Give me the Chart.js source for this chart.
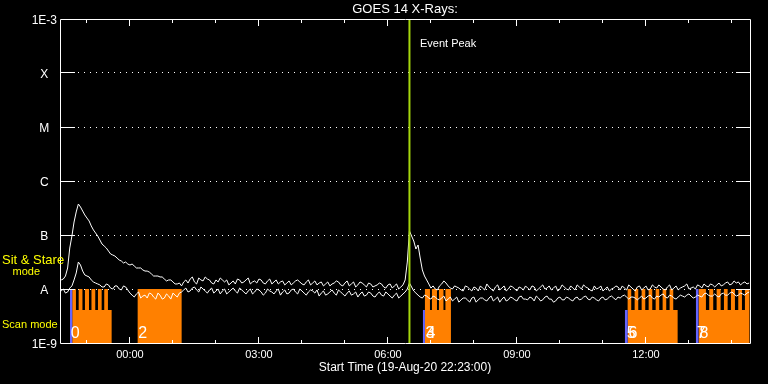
<!DOCTYPE html>
<html><head><meta charset="utf-8">
<script src="https://cdn.jsdelivr.net/npm/chart.js"></script>
<style>html,body{margin:0;padding:0;background:#000;}canvas{display:block;}</style>
</head><body>
<canvas id="c" width="768" height="384"></canvas>
<script>
// Time axis: hours relative to 20-Aug-2020 00:00 UT (plot starts 19-Aug 22:23)
const axisStartHour = -1.627;
const axisEndHour = 14.42;
const startHour = -1.6;   // first sample
const stepHour = 0.05;    // sample spacing (hours)

// GOES 14 fluxes, in units of 1e-8 W/m^2 (A-class)
const fluxLong = [
1.47,1.53,1.74,2.45,5.74,9.58,17.4,26.7,37.5,33.0,
27.8,23.5,20.6,18.2,14.7,12.4,10.9,9.58,8.08,6.81,
6.26,5.74,5.05,4.45,4.26,4.08,3.75,3.44,3.30,3.03,
3.16,2.90,2.78,2.90,2.67,2.45,2.45,2.45,2.25,2.15,
2.15,2.06,1.90,1.74,1.74,1.74,1.67,1.67,1.53,1.41,
1.47,1.47,1.35,1.24,1.24,1.29,1.14,1.35,1.47,1.29,
1.53,1.67,1.35,1.24,1.60,1.47,1.41,1.67,1.53,1.47,
1.29,1.24,1.47,1.35,1.60,1.47,1.35,1.47,1.19,1.29,
1.41,1.24,1.53,1.47,1.29,1.35,1.47,1.60,1.24,1.35,
1.41,1.29,1.53,1.47,1.29,1.24,1.41,1.53,1.24,1.35,
1.47,1.24,1.35,1.41,1.19,1.29,1.41,1.19,1.29,1.41,
1.47,1.35,1.24,1.19,1.35,1.47,1.19,1.29,1.41,1.19,
1.29,1.35,1.14,1.24,1.35,1.14,1.24,1.29,1.41,1.35,
1.19,1.14,1.29,1.41,1.14,1.24,1.35,1.09,1.19,1.35,
1.29,1.19,1.09,1.29,1.24,1.09,1.14,1.19,1.29,1.24,
1.09,1.04,1.19,1.24,1.04,1.14,1.24,1.00,1.09,1.19,
1.47,3.16,11.9,9.58,7.74,5.50,6.53,3.75,2.25,1.74,
1.47,1.24,1.04,1.14,1.00,0.96,1.14,1.24,1.41,1.29,
1.14,1.04,1.00,1.14,1.09,1.04,0.96,0.92,1.14,1.09,
1.00,0.92,1.09,1.04,0.92,1.14,1.04,0.96,1.24,1.09,
1.00,0.92,1.09,1.19,0.96,1.04,1.14,0.92,1.00,1.14,
1.09,1.00,0.92,1.09,1.04,0.96,1.14,1.04,0.96,1.14,
1.09,0.92,1.00,1.09,1.19,1.00,1.04,1.14,0.96,1.04,
1.14,0.92,1.00,1.19,1.09,1.00,0.96,1.14,1.04,0.96,
1.19,1.09,1.00,1.19,1.09,1.04,0.96,0.92,1.14,1.00,
1.04,1.14,0.92,1.00,1.09,0.92,1.00,1.04,1.14,1.09,
0.96,1.14,1.04,0.96,1.19,1.09,1.00,0.92,1.09,1.14,
0.96,1.04,1.14,0.96,1.00,1.19,1.09,1.04,1.19,1.09,
1.00,0.96,1.09,1.19,0.96,1.04,1.14,0.96,1.04,1.09,
1.14,1.24,1.00,1.04,1.09,1.00,1.19,1.14,1.04,1.24,
1.14,1.09,1.24,1.19,1.09,1.19,1.29,1.14,1.19,1.29,
1.35,1.19,1.24,1.41,1.29,1.35,1.19,1.29,1.35,1.24,
1.29];
const fluxShort = [
0.92,1.00,0.84,0.88,1.04,1.14,1.47,1.98,3.16,2.78,
2.15,1.82,1.74,1.67,1.47,1.35,1.29,1.24,1.19,1.09,
1.09,1.24,1.19,1.04,1.00,1.14,1.14,1.00,0.96,1.14,
1.09,0.96,0.84,0.77,0.71,0.81,0.88,0.68,0.74,0.77,
0.68,0.84,0.81,0.71,0.65,0.84,0.77,0.65,0.68,0.81,
0.74,0.65,0.84,0.77,0.71,0.84,0.88,0.96,1.04,0.88,
0.92,1.04,1.09,0.96,0.88,1.09,1.00,0.92,0.84,0.96,
1.04,0.84,0.92,1.00,0.81,0.92,1.00,0.81,0.88,0.96,
1.04,0.92,0.84,1.04,0.96,0.88,0.81,0.92,1.00,0.81,
0.88,1.00,0.96,0.88,0.77,0.84,1.00,0.92,0.88,0.81,
0.92,1.00,0.77,0.88,0.96,0.81,0.84,0.96,1.00,0.88,
0.81,1.00,0.92,0.84,0.77,0.88,0.96,0.92,0.84,0.96,
0.74,0.84,0.92,0.77,0.81,0.88,0.96,0.84,0.77,0.96,
0.88,0.81,0.74,0.84,0.92,0.77,0.81,0.88,0.71,0.81,
0.88,0.74,0.77,0.88,0.84,0.74,0.71,0.81,0.88,0.77,
0.74,0.88,0.81,0.74,0.68,0.77,0.84,0.68,0.74,0.81,
0.88,1.00,1.29,1.09,0.92,0.84,0.77,0.71,0.68,0.77,
0.74,0.68,0.65,0.74,0.71,0.65,0.63,0.68,0.74,0.60,
0.65,0.71,0.60,0.65,0.71,0.57,0.63,0.68,0.68,0.63,
0.57,0.68,0.71,0.57,0.63,0.68,0.68,0.63,0.60,0.68,
0.74,0.60,0.65,0.71,0.57,0.65,0.71,0.60,0.63,0.71,
0.68,0.63,0.60,0.71,0.74,0.65,0.65,0.63,0.71,0.68,
0.60,0.74,0.68,0.60,0.63,0.71,0.74,0.65,0.65,0.57,
0.60,0.68,0.71,0.63,0.63,0.71,0.68,0.63,0.60,0.68,
0.71,0.63,0.65,0.71,0.74,0.65,0.63,0.71,0.68,0.63,
0.60,0.68,0.71,0.63,0.65,0.71,0.74,0.68,0.63,0.71,
0.68,0.74,0.77,0.71,0.65,0.71,0.71,0.68,0.63,0.68,
0.74,0.65,0.68,0.74,0.77,0.68,0.65,0.74,0.71,0.77,
0.81,0.71,0.68,0.77,0.74,0.68,0.65,0.71,0.77,0.74,
0.71,0.77,0.81,0.74,0.68,0.71,0.77,0.74,0.71,0.81,
0.84,0.77,0.74,0.74,0.81,0.74,0.71,0.81,0.84,0.77,
0.77,0.84,0.88,0.81,0.74,0.77,0.84,0.81,0.77,0.84,
0.88];

const yTickValues = [1e-9,1e-8,1e-7,1e-6,1e-5,1e-4,1e-3];
const yTickLabels = ['1E-9','A','B','C','M','X','1E-3'];
const xTickHours = [0,3,6,9,12];
const xTickLabels = ['00:00','03:00','06:00','09:00','12:00'];
const eventPeakHour = 6.5;

// Instrument mode (level 1 = Sit & Stare, 0.61 = Scan, 0 = none)
const modeHours = [-1.627,
 -1.342,-1.256,-1.193,-1.105,-1.047,-0.953,-0.895,-0.807,-0.744,-0.658,-0.598,-0.512,-0.426,
 0.179,1.202,
 6.860,6.977,7.023,7.140,7.186,7.291,7.337,7.465,
 11.574,11.658,11.737,11.821,11.900,11.984,12.063,12.147,12.226,12.309,12.388,12.472,12.551,12.635,12.737,
 13.226,13.395,13.472,13.565,13.644,13.737,13.814,13.900,13.977,14.070,14.147,14.233,14.302,14.412];
const modeLevels = [0,
 1,0.61,1,0.61,1,0.61,1,0.61,1,0.61,1,0.61,0,
 1,0,
 1,0.61,1,0.61,1,0.61,1,0,
 1,0.61,1,0.61,1,0.61,1,0.61,1,0.61,1,0.61,1,0.61,0,
 1,0.61,1,0.61,1,0.61,1,0.61,1,0.61,1,0.61,1,0];
const markerHours = [-1.627,-1.395,-1.342,6.814,6.860,11.512,11.574,13.163,13.226];
const markerLevels = [0,1,0,0.61,0,0.61,0,1,0];
const obsLabels = ['0','2','3','4','5','6','7','8'];
const obsLabelHours = [-1.379,0.193,6.872,6.895,11.551,11.593,13.179,13.244];

const FONT = "'Liberation Sans', Arial, sans-serif";
const hours = fluxLong.map((_, i) => +(startHour + i * stepHour).toFixed(3));
const toPts = arr => arr.map((v, i) => ({x: hours[i], y: v * 1e-8}));
const stepPts = (hs, ls) => hs.map((h, i) => ({x: h, y: ls[i]}));

const decor = {
  id: 'decor',
  afterDatasetsDraw(chart) {
    const {ctx, chartArea: a, scales: {x, y}} = chart;
    ctx.save();
    ctx.strokeStyle = '#fff';
    ctx.lineWidth = 1;
    ctx.beginPath();
    ctx.rect(a.left + 0.5, a.top + 0.5, a.right - a.left, a.bottom - a.top);
    for (let h = Math.ceil(x.min); h <= Math.floor(x.max); h++) {
      const px = Math.floor(x.getPixelForValue(h)) + 0.5;
      const len = (h % 3 === 0) ? 6 : 3;
      ctx.moveTo(px, a.bottom); ctx.lineTo(px, a.bottom - len);
      ctx.moveTo(px, a.top + 1); ctx.lineTo(px, a.top + 1 + len);
    }
    yTickValues.slice(1, -1).forEach(v => {
      const py = Math.floor(y.getPixelForValue(v)) + 0.5;
      ctx.moveTo(a.left, py); ctx.lineTo(a.left + 15, py);
      ctx.moveTo(a.right, py); ctx.lineTo(a.right - 14, py);
    });
    ctx.stroke();
    ctx.restore();
  },
  afterDraw(chart) {
    const {ctx, chartArea: a, scales: {x}} = chart;
    ctx.save();
    ctx.fillStyle = '#fff';
    ctx.textBaseline = 'alphabetic';
    ctx.textAlign = 'left';
    ctx.font = '16px ' + FONT;
    obsLabels.forEach((t, i) => ctx.fillText(t, x.getPixelForValue(obsLabelHours[i]), a.bottom - 5));
    ctx.font = '11px ' + FONT;
    ctx.fillText('Event Peak', x.getPixelForValue(eventPeakHour) + 10.5, 47);
    ctx.fillStyle = '#ffff00';
    ctx.font = '13px ' + FONT;
    ctx.fillText('Sit & Stare', 2, 263.5);
    ctx.font = '11px ' + FONT;
    ctx.fillText('mode', 12.5, 275);
    ctx.fillText('Scan mode', 2, 328);
    ctx.restore();
  }
};

new Chart(document.getElementById('c'), {
  type: 'line',
  data: {
    datasets: [
      {label: 'GOES 14 1-8 A', data: toPts(fluxLong), borderColor: '#fff', borderWidth: 1, pointRadius: 0, tension: 0, order: 1, yAxisID: 'y'},
      {label: 'GOES 14 0.5-4 A', data: toPts(fluxShort), borderColor: '#fff', borderWidth: 1, pointRadius: 0, tension: 0, order: 1, yAxisID: 'y'},
      {label: 'Event Peak', data: [{x: eventPeakHour, y: 1e-9}, {x: eventPeakHour, y: 1e-3}], borderColor: '#a4d60c', borderWidth: 2, pointRadius: 0, order: 0, yAxisID: 'y'},
      {label: 'Marker', data: stepPts(markerHours, markerLevels), stepped: true, fill: 'start', backgroundColor: '#6464ff', borderColor: 'rgba(0,0,0,0)', borderWidth: 1, pointRadius: 0, order: 2, yAxisID: 'yMode'},
      {label: 'Mode', data: stepPts(modeHours, modeLevels), stepped: true, fill: 'start', backgroundColor: '#ff8000', borderColor: 'rgba(0,0,0,0)', borderWidth: 1, pointRadius: 0, order: 3, yAxisID: 'yMode'}
    ]
  },
  options: {
    responsive: false,
    animation: false,
    devicePixelRatio: 1,
    layout: {padding: {left: 0, right: 18, top: 0, bottom: 0}},
    plugins: {
      legend: {display: false},
      tooltip: {enabled: false},
      title: {display: true, text: 'GOES 14 X-Rays:', color: '#fff', fullSize: false,
              font: {family: FONT, size: 13, weight: 'normal'}, padding: {top: 2, bottom: 1.4}}
    },
    scales: {
      x: {
        type: 'linear', min: axisStartHour, max: axisEndHour,
        grid: {display: false, drawTicks: false},
        border: {display: false},
        afterBuildTicks: s => { s.ticks = xTickHours.map(v => ({value: v})); },
        afterFit: s => { s.height = 41; },
        ticks: {color: '#fff', font: {family: FONT, size: 11}, padding: 5, maxRotation: 0, autoSkip: false,
                callback: (v, i) => xTickLabels[i]},
        title: {display: true, text: 'Start Time (19-Aug-20 22:23:00)', color: '#fff',
                font: {family: FONT, size: 12}, padding: {top: 0, bottom: 9}}
      },
      y: {
        type: 'logarithmic', min: 1e-9, max: 1e-3, position: 'left',
        afterBuildTicks: s => { s.ticks = yTickValues.map(v => ({value: v})); },
        afterFit: s => { s.width = 60; },
        grid: {drawTicks: false, lineWidth: 1,
               color: c => (c.index === 0 || c.index === yTickValues.length - 1) ? 'rgba(0,0,0,0)' : '#fff'},
        border: {display: false, dash: [1, 5]},
        ticks: {color: '#fff', font: {family: FONT, size: 12}, padding: 3, crossAlign: 'center', labelOffset: 2,
                callback: (v, i) => yTickLabels[i]}
      },
      yMode: {type: 'linear', min: 0, max: 6, display: false}
    }
  },
  plugins: [decor]
});
</script>
</body></html>
